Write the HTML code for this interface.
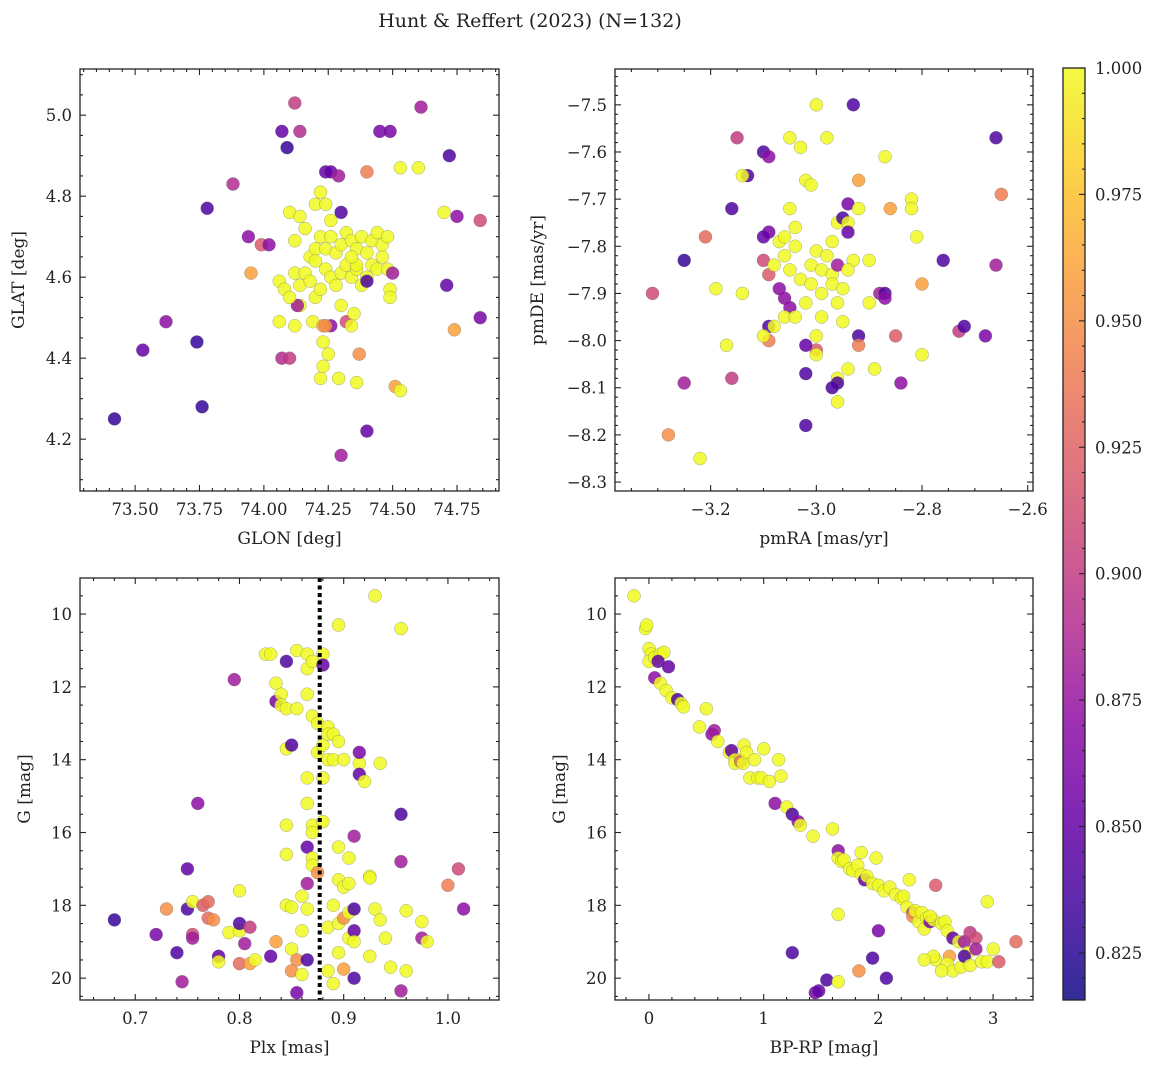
<!DOCTYPE html>
<html><head><meta charset="utf-8">
<style>
html,body{margin:0;padding:0;background:#fff;}
svg, svg text{font-family:"DejaVu Serif","Liberation Serif",serif;}
svg text{fill:#222;}
</style></head>
<body>
<svg id="fig" width="1160" height="1068" viewBox="0 0 1160 1068" xmlns="http://www.w3.org/2000/svg" font-family="DejaVu Serif, Liberation Serif, serif">
<text x="530" y="27" font-size="19" text-anchor="middle">Hunt &amp; Reffert (2023) (N=132)</text>
</svg>
<script>
// ---------- data ----------
const glonVals=[73.42,73.53,73.62,73.74,73.76,73.78,73.88,73.94,73.95,73.99,74.02,74.07,74.09,74.12,74.14,74.07,74.24,74.26,74.29,74.40,74.45,74.49,74.53,74.60,74.61,74.72,74.75,74.70,74.71,74.84,74.84,74.74,74.51,74.53,74.37,74.36,74.29,74.22,74.23,74.25,74.40,74.30,74.12,74.06,74.19,74.23,74.26,74.32,74.34,74.35,74.30,74.14,74.10,74.13,74.23,74.06,74.08,74.10,74.12,74.14,74.16,74.18,74.20,74.22,74.24,74.26,74.28,74.30,74.32,74.34,74.36,74.38,74.40,74.42,74.44,74.46,74.48,74.49,74.50,74.49,74.18,74.20,74.22,74.24,74.26,74.28,74.30,74.32,74.34,74.36,74.38,74.40,74.42,74.44,74.46,74.48,74.12,74.10,74.14,74.16,74.20,74.22,74.24,74.26,74.30,74.20,74.36,74.40,74.24,74.34];
const glatVals=[4.25,4.42,4.49,4.44,4.28,4.77,4.83,4.70,4.61,4.68,4.68,4.96,4.92,5.03,4.96,4.40,4.86,4.86,4.85,4.86,4.96,4.96,4.87,4.87,5.02,4.90,4.75,4.76,4.58,4.74,4.50,4.47,4.33,4.32,4.41,4.34,4.35,4.35,4.38,4.41,4.22,4.16,4.48,4.49,4.49,4.44,4.48,4.49,4.48,4.51,4.53,4.53,4.40,4.53,4.48,4.59,4.57,4.55,4.61,4.58,4.61,4.59,4.55,4.57,4.62,4.60,4.58,4.61,4.63,4.60,4.62,4.58,4.60,4.63,4.62,4.65,4.62,4.57,4.61,4.55,4.65,4.67,4.70,4.67,4.70,4.66,4.68,4.71,4.69,4.67,4.70,4.66,4.69,4.71,4.68,4.70,4.69,4.76,4.75,4.72,4.78,4.81,4.78,4.74,4.76,4.64,4.63,4.59,4.48,4.65];
const probA=[0.83,0.85,0.87,0.83,0.83,0.84,0.89,0.87,0.96,0.92,0.87,0.85,0.83,0.90,0.89,0.89,0.85,0.85,0.88,0.94,0.86,0.86,1,1,0.88,0.84,0.87,1,0.85,0.91,0.86,0.96,0.96,1,0.95,1,1,1,1,1,0.85,0.88,1,1,1,1,0.87,0.91,1,1,1,1,0.90,0.88,0.96,1,1,1,1,1,1,1,1,1,1,1,1,1,1,1,1,1,1,1,1,1,1,1,0.88,1,1,1,1,1,1,1,1,1,1,1,1,1,1,1,1,1,1,1,1,1,1,1,1,1,0.84,1,1,0.84,0.95,1];

const pmraVals=[-3.31,-3.25,-3.25,-3.28,-3.22,-3.21,-3.19,-3.16,-3.15,-3.13,-3.14,-3.14,-3.17,-3.16,-3.10,-3.09,-3.09,-3.10,-3.10,-3.09,-3.09,-3.09,-3.10,-3.08,-3.07,-3.06,-3.07,-3.05,-3.03,-3.05,-3.04,-3.06,-3.05,-3.03,-3.05,-3.06,-3.04,-3.02,-3.01,-3.01,-3.02,-3.01,-3.00,-3.00,-2.99,-2.99,-2.99,-3.00,-3.00,-3.00,-3.02,-3.02,-3.02,-2.98,-2.97,-2.96,-2.97,-2.97,-2.96,-2.96,-2.95,-2.94,-2.94,-2.94,-2.93,-2.92,-2.93,-2.94,-2.95,-2.95,-2.94,-2.96,-2.96,-2.97,-2.96,-2.92,-2.92,-2.90,-2.90,-2.89,-2.88,-2.87,-2.87,-2.87,-2.86,-2.85,-2.84,-2.82,-2.82,-2.81,-2.80,-2.80,-2.76,-2.73,-2.72,-2.68,-2.66,-2.66,-2.65,-3.06,-3.04,-3.08,-2.98,-2.92];
const pmdeVals=[-7.90,-7.83,-8.09,-8.20,-8.25,-7.78,-7.89,-7.72,-7.57,-7.65,-7.65,-7.90,-8.01,-8.08,-7.60,-7.61,-7.77,-7.78,-7.83,-7.86,-7.97,-8.00,-7.99,-7.97,-7.89,-7.91,-7.79,-7.57,-7.59,-7.72,-7.80,-7.82,-7.85,-7.87,-7.93,-7.95,-7.95,-7.92,-7.88,-7.84,-7.66,-7.67,-7.50,-7.81,-7.85,-7.90,-7.95,-7.99,-8.02,-8.03,-8.01,-8.07,-8.18,-7.57,-7.79,-7.75,-7.86,-7.88,-7.92,-7.84,-7.74,-7.75,-7.77,-7.71,-7.50,-7.66,-7.83,-7.85,-7.89,-7.96,-8.06,-8.08,-8.09,-8.10,-8.13,-7.99,-8.01,-7.92,-7.83,-8.06,-7.90,-7.90,-7.91,-7.61,-7.72,-7.99,-8.09,-7.70,-7.72,-7.78,-7.88,-8.03,-7.83,-7.98,-7.97,-7.99,-7.57,-7.84,-7.69,-7.78,-7.76,-7.84,-7.82,-7.72];
const probB=[0.91,0.83,0.88,0.95,1,0.93,1,0.84,0.90,0.84,1,1,1,0.90,0.84,0.87,0.86,0.85,0.91,0.92,0.84,0.94,1,1,0.87,0.87,1,1,1,1,1,1,1,1,0.87,1,1,1,1,1,1,1,1,1,1,1,1,1,0.92,1,0.85,0.84,0.84,1,1,1,1,1,1,0.88,0.84,1,0.85,0.86,0.84,0.96,1,1,1,1,1,1,0.84,0.84,1,0.84,0.94,1,1,1,0.88,0.84,0.87,1,0.96,0.92,0.87,1,1,1,0.96,1,0.84,0.90,0.84,0.86,0.84,0.88,0.94,1,1,1,1,1];

const plxVals=[0.68,0.72,0.74,0.745,0.75,0.75,0.755,0.755,0.73,0.755,0.76,0.765,0.77,0.77,0.775,0.78,0.78,0.79,0.795,0.80,0.80,0.80,0.80,0.805,0.81,0.81,0.815,0.825,0.83,0.83,0.835,0.835,0.835,0.84,0.84,0.845,0.845,0.845,0.845,0.845,0.845,0.85,0.85,0.85,0.85,0.855,0.855,0.855,0.855,0.86,0.86,0.86,0.865,0.865,0.865,0.865,0.865,0.865,0.865,0.865,0.865,0.87,0.87,0.87,0.87,0.87,0.87,0.875,0.875,0.875,0.88,0.88,0.88,0.88,0.88,0.885,0.885,0.885,0.885,0.885,0.89,0.89,0.895,0.895,0.895,0.89,0.895,0.895,0.89,0.895,0.9,0.9,0.9,0.9,0.905,0.905,0.905,0.91,0.91,0.91,0.91,0.91,0.915,0.915,0.915,0.92,0.925,0.925,0.925,0.93,0.93,0.935,0.935,0.94,0.945,0.955,0.955,0.955,0.955,0.96,0.96,0.975,0.975,0.98,1.0,1.01,1.015,0.905];
const gmagC=[18.4,18.8,19.3,20.1,18.1,17.0,18.8,18.9,18.1,17.9,15.2,18.0,17.9,18.35,18.4,19.4,19.55,18.75,11.8,17.6,18.7,18.5,19.6,19.05,18.6,19.6,19.5,11.1,11.1,19.4,19.0,11.9,12.4,12.2,12.5,11.3,12.6,13.7,15.8,16.6,18.0,18.05,19.2,19.8,13.6,11.0,12.6,19.5,20.4,17.75,18.7,19.9,11.1,11.5,12.2,14.5,15.2,16.4,17.4,18.1,19.5,11.3,12.8,15.8,16.0,16.7,16.9,13.0,13.8,17.1,11.1,11.4,13.6,14.5,15.7,13.1,13.3,14.0,18.6,19.8,13.3,14.0,13.5,16.4,17.3,18.0,18.5,19.3,20.15,10.3,14.0,17.5,18.35,19.75,16.7,18.9,18.2,16.1,18.1,18.7,19.0,20.0,14.1,13.8,14.4,14.6,17.2,17.25,19.4,9.5,18.1,14.1,18.4,18.9,19.7,10.4,15.5,16.8,20.35,18.15,19.8,18.45,18.9,19.0,17.45,17.0,18.1,17.4];
const probC=[0.83,0.86,0.84,0.88,0.84,0.85,0.91,0.88,0.95,1,0.87,0.92,0.93,0.93,0.95,0.85,1,1,0.88,1,1,0.84,0.93,0.88,0.90,0.96,1,1,1,0.85,0.96,1,0.86,1,1,0.84,1,1,1,1,1,1,1,0.95,0.84,1,1,0.95,0.86,1,1,1,1,1,1,1,1,0.85,0.88,1,0.84,1,1,1,1,1,1,1,1,0.95,1,0.85,1,1,1,1,1,1,1,1,1,1,1,1,1,1,1,1,1,1,1,1,0.95,0.96,1,1,1,0.88,0.84,0.85,1,0.84,1,0.86,0.85,1,1,1,1,1,1,1,1,1,1,1,0.84,0.88,0.88,1,1,1,0.88,1,0.94,0.91,0.87,1];

const bprpVals=[-0.13,-0.03,-0.02,0.0,0.02,0.0,0.05,0.1,0.13,0.08,0.05,0.1,0.15,0.17,0.2,0.25,0.28,0.3,0.44,0.5,0.55,0.57,0.6,0.7,0.72,0.75,0.75,0.8,0.8,0.82,0.83,0.85,0.88,0.92,0.95,0.98,1.0,1.05,1.1,1.13,1.15,1.2,1.25,1.3,1.32,1.43,1.6,1.65,1.65,1.68,1.7,1.75,1.78,1.82,1.85,1.85,1.88,1.9,1.95,1.98,2.0,2.05,2.1,2.15,2.2,2.22,2.25,2.27,2.3,2.3,2.32,2.35,2.38,2.4,2.42,2.45,2.48,2.5,2.5,2.48,2.55,2.58,2.6,2.62,2.6,2.65,2.65,2.7,2.72,2.75,2.78,2.75,2.8,2.85,2.85,2.8,2.9,2.95,2.95,3.0,3.05,3.2,1.25,1.45,1.48,1.55,1.65,1.65,1.83,1.95,2.0,2.07,2.4,2.55,2.45];
const gmagD=[9.5,10.4,10.3,10.95,11.1,11.3,11.2,11.1,11.05,11.3,11.75,11.9,12.1,11.45,12.3,12.35,12.45,12.55,13.1,12.6,13.3,13.2,13.5,13.8,13.75,14.0,14.1,14.0,14.05,14.1,13.6,13.8,14.5,14.0,14.5,14.5,13.7,14.6,15.2,14.0,14.45,15.3,15.5,15.7,15.8,16.1,15.9,16.5,16.7,16.8,16.75,17.0,17.05,16.9,16.55,17.15,17.3,17.2,17.4,16.7,17.45,17.6,17.5,17.7,17.8,17.75,18.05,17.3,18.2,18.3,18.15,18.45,18.2,18.65,18.35,18.45,18.4,17.45,19.5,19.4,18.5,18.45,18.7,19.4,19.6,19.8,18.9,19.0,19.7,19.0,19.3,19.4,18.75,18.9,19.2,19.65,19.55,17.9,19.55,19.2,19.55,19.0,19.3,20.4,20.35,20.05,20.1,18.25,19.8,19.45,18.7,20.0,19.5,19.8,18.3];
const probD=[1,1,1,1,1,1,1,1,1,0.85,0.87,1,1,0.85,1,0.84,1,1,1,1,0.87,0.88,1,1,0.85,1,1,1,0.93,1,1,1,1,1,1,1,1,1,0.87,1,1,1,0.84,0.87,1,1,1,0.87,1,1,1,1,1,1,1,1,0.85,1,1,1,1,1,1,1,1,1,1,1,0.9,0.95,1,1,1,1,1,0.86,1,0.92,1,1,1,1,1,0.96,1,1,0.85,1,1,0.88,1,0.84,0.9,0.91,0.88,1,1,1,1,1,0.92,0.93,0.84,0.86,0.85,0.84,1,1,0.95,0.84,0.86,0.84,1,1,1];

const cbTicks=[0.825,0.850,0.875,0.900,0.925,0.950,0.975,1.000];
const VMIN=0.8157, VMAX=1.0;

// ---------- helpers ----------
const NS="http://www.w3.org/2000/svg";
const svg=document.getElementById('fig');
const FF='DejaVu Serif, Liberation Serif, serif';
function mk(tag,attrs,parent){const e=document.createElementNS(NS,tag);for(const k in attrs)e.setAttribute(k,attrs[k]);if(tag==='text')e.setAttribute('font-family',FF);(parent||svg).appendChild(e);return e;}
const plasma=[[13,8,135],[65,4,157],[106,0,168],[143,13,164],[177,42,144],[204,71,120],[225,100,98],[242,132,75],[252,166,54],[252,206,37],[240,249,33]];
function cmap(v){let t=(v-VMIN)/(VMAX-VMIN);t=Math.max(0,Math.min(1,t))*10;const i=Math.min(9,Math.floor(t)),f=t-i;const a=plasma[i],b=plasma[i+1];return `rgb(${Math.round(a[0]+(b[0]-a[0])*f)},${Math.round(a[1]+(b[1]-a[1])*f)},${Math.round(a[2]+(b[2]-a[2])*f)})`;}
function fmt(v,d){const s=Math.abs(v).toFixed(d);return (v<-1e-9?'\u2212':'')+s;}

function panel(o){
  const g=mk('g',{});
  
  
  const X=v=>o.L+(v-o.x0)/(o.x1-o.x0)*(o.R-o.L);
  const Y=v=>o.B-(v-o.y0)/(o.y1-o.y0)*(o.B-o.T);
  const pg=mk('g',{},g);
  
  
  for(let i=0;i<o.xs.length;i++){
    const c=mk('circle',{cx:X(o.xs[i]).toFixed(1),cy:Y(o.ys[i]).toFixed(1),r:6.5,fill:cmap(o.ps[i]),'fill-opacity':0.85,stroke:'#666','stroke-width':0.4,'stroke-opacity':0.7},pg);
    
    
  }
  if(o.vline!==undefined){
    const l=mk('line',{x1:X(o.vline),x2:X(o.vline),y1:o.T,y2:o.B,stroke:'#000','stroke-width':4,'stroke-dasharray':'4,3.5'},g);
    
    
  }
  const tg=mk('g',{stroke:'#222','stroke-width':1.1},g);
  
  
  const lo=Math.min(o.x0,o.x1),hi=Math.max(o.x0,o.x1);
  for(let k=Math.ceil(lo/o.xmin-1e-6);k*o.xmin<=hi+1e-9;k++){
    const v=k*o.xmin, x=X(v); const major=Math.abs(v/o.xmaj-Math.round(v/o.xmaj))<1e-6; const len=major?6:3;
    mk('line',{x1:x,x2:x,y1:o.B,y2:o.B-len},tg); mk('line',{x1:x,x2:x,y1:o.T,y2:o.T+len},tg);
  }
  const ylo=Math.min(o.y0,o.y1),yhi=Math.max(o.y0,o.y1);
  for(let k=Math.ceil(ylo/o.ymin-1e-6);k*o.ymin<=yhi+1e-9;k++){
    const v=k*o.ymin, y=Y(v); const major=Math.abs(v/o.ymaj-Math.round(v/o.ymaj))<1e-6; const len=major?6:3;
    mk('line',{x1:o.L,x2:o.L+len,y1:y,y2:y},tg); mk('line',{x1:o.R,x2:o.R-len,y1:y,y2:y},tg);
  }
  for(const v of o.xticks){const t=mk('text',{x:X(v),y:o.B+24,'font-size':16.5,'text-anchor':'middle'},g);t.textContent=fmt(v,o.xd);
    }
  for(const v of o.yticks){const t=mk('text',{x:o.L-8,y:Y(v)+6,'font-size':16.5,'text-anchor':'end'},g);t.textContent=fmt(v,o.yd);
    }
  const r=mk('rect',{x:o.L,y:o.T,width:o.R-o.L,height:o.B-o.T,fill:'none',stroke:'#222','stroke-width':1.3},g);
  
  const xl=mk('text',{x:(o.L+o.R)/2,y:o.B+53,'font-size':17,'text-anchor':'middle'},g);xl.textContent=o.xlabel;
  
  const yx=o.ylx, yy=(o.T+o.B)/2;
  const yl=mk('text',{x:yx,y:yy,'font-size':17,'text-anchor':'middle',transform:`rotate(-90 ${yx} ${yy})`},g);yl.textContent=o.ylabel;
  
}

const range=(a,b,s)=>{const r=[];for(let v=a;v<=b+1e-9;v+=s)r.push(+v.toFixed(6));return r;};

panel({name:'panel-glon-glat',L:80,R:499,T:69,B:491,x0:73.286,x1:74.913,y0:4.072,y1:5.114,xs:glonVals,ys:glatVals,ps:probA,
  xmaj:0.25,xmin:0.05,ymaj:0.2,ymin:0.05,xticks:range(73.5,74.75,0.25),yticks:range(4.2,5.0,0.2),xd:2,yd:1,xlabel:'GLON [deg]',ylabel:'GLAT [deg]',ylx:24});
panel({name:'panel-pmra-pmde',L:615,R:1033,T:69,B:491,x0:-3.381,x1:-2.59,y0:-8.319,y1:-7.424,xs:pmraVals,ys:pmdeVals,ps:probB,
  xmaj:0.2,xmin:0.05,ymaj:0.1,ymin:0.02,xticks:[-3.2,-3.0,-2.8,-2.6],yticks:range(-8.3,-7.5,0.1),xd:1,yd:1,xlabel:'pmRA [mas/yr]',ylabel:'pmDE [mas/yr]',ylx:543});
panel({name:'panel-plx-g',L:80,R:499,T:578,B:1000,x0:0.647,x1:1.049,y0:20.6,y1:9.01,xs:plxVals,ys:gmagC,ps:probC,vline:0.877,
  xmaj:0.1,xmin:0.02,ymaj:2,ymin:0.5,xticks:[0.7,0.8,0.9,1.0],yticks:[10,12,14,16,18,20],xd:1,yd:0,xlabel:'Plx [mas]',ylabel:'G [mag]',ylx:30});
panel({name:'panel-bprp-g',L:615,R:1033,T:578,B:1000,x0:-0.296,x1:3.348,y0:20.6,y1:9.01,xs:bprpVals,ys:gmagD,ps:probD,
  xmaj:1,xmin:0.2,ymaj:2,ymin:0.5,xticks:[0,1,2,3],yticks:[10,12,14,16,18,20],xd:0,yd:0,xlabel:'BP-RP [mag]',ylabel:'G [mag]',ylx:565});

// ---------- colorbar ----------
(function(){
  const L=1063,R=1085,T=68,B=1000;
  const defs=mk('defs',{});
  const gr=mk('linearGradient',{id:'cbg',x1:0,y1:1,x2:0,y2:0},defs);
  for(let i=0;i<=10;i++){const v=VMIN+(VMAX-VMIN)*i/10;mk('stop',{offset:i/10,'stop-color':cmap(v),'stop-opacity':0.85},gr);}
  const g=mk('g',{});
  
  
  mk('rect',{x:L,y:T,width:R-L,height:B-T,fill:'url(#cbg)',stroke:'#222','stroke-width':1.3},g);
  const Y=v=>B-(v-VMIN)/(VMAX-VMIN)*(B-T);
  for(let k=Math.ceil(VMIN/0.005);k*0.005<=VMAX+1e-9;k++){
    const v=k*0.005,y=Y(v),maj=(k%5===0);
    mk('line',{x1:R,x2:R-(maj?6:3),y1:y,y2:y,stroke:'#222','stroke-width':1.1},g);
  }
  for(const v of cbTicks){const t=mk('text',{x:R+10,y:Y(v)+6,'font-size':16.5},g);t.textContent=v.toFixed(3);
    }
})();
</script>
</body></html>
